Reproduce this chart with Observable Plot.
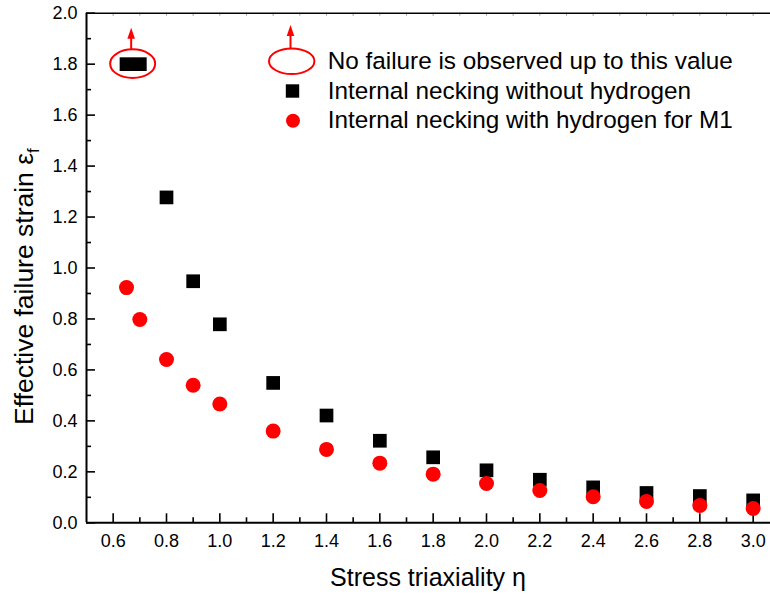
<!DOCTYPE html>
<html><head><meta charset="utf-8">
<script src="https://cdn.jsdelivr.net/npm/d3@7"></script>
<script src="https://cdn.jsdelivr.net/npm/@observablehq/plot@0.6"></script>
<style>
body{margin:0;background:#fff}
#chart{position:relative;width:770px;height:596px;overflow:hidden}
</style>
</head><body><div id="chart"></div>
<script>
// ---- data ----
const triaxialityNoH = [0.65, 0.7, 0.8, 0.9, 1.0, 1.2, 1.4, 1.6, 1.8, 2.0, 2.2, 2.4, 2.6, 2.8, 3.0];
const strainNoH      = [1.8, 1.8, 1.277, 0.948, 0.779, 0.549, 0.421, 0.322, 0.257, 0.206, 0.169, 0.139, 0.117, 0.105, 0.088];
const censoredNoH    = [true, true, false, false, false, false, false, false, false, false, false, false, false, false, false];
const triaxialityH   = [0.65, 0.7, 0.8, 0.9, 1.0, 1.2, 1.4, 1.6, 1.8, 2.0, 2.2, 2.4, 2.6, 2.8, 3.0];
const strainH        = [0.923, 0.798, 0.641, 0.540, 0.466, 0.360, 0.288, 0.234, 0.191, 0.154, 0.127, 0.102, 0.084, 0.068, 0.056];
const xMajorTicks = [0.6, 0.8, 1.0, 1.2, 1.4, 1.6, 1.8, 2.0, 2.2, 2.4, 2.6, 2.8, 3.0];
const xMinorTicks = [0.7, 0.9, 1.1, 1.3, 1.5, 1.7, 1.9, 2.1, 2.3, 2.5, 2.7, 2.9];
const yMajorTicks = [0, 0.2, 0.4, 0.6, 0.8, 1.0, 1.2, 1.4, 1.6, 1.8, 2.0];
const yMinorTicks = [0.1, 0.3, 0.5, 0.7, 0.9, 1.1, 1.3, 1.5, 1.7, 1.9];
const legendLabels = ["No failure is observed up to this value", "Internal necking without hydrogen", "Internal necking with hydrogen for M1"];
const xTitle = "Stress triaxiality η";
const yTitle = "Effective failure strain ε";
const yTitleSub = "f";

// ---- build ----
const font = "'Liberation Sans', Arial, Helvetica, sans-serif";
const noH = triaxialityNoH.map((x, i) => ({x, y: strainNoH[i], censored: censoredNoH[i]}));
const withH = triaxialityH.map((x, i) => ({x, y: strainH[i]}));
const fmt = d => d.toFixed(1);
const W = 770, H = 596, mL = 86, mR = 0, mT = 12.7, mB = 73.7;
const frameW = W - mL - mR, frameH = H - mT - mB;

const plot = Plot.plot({
  width: W, height: H,
  marginLeft: mL, marginRight: mR, marginTop: mT, marginBottom: mB,
  style: {fontFamily: font, fontSize: "18px", background: "white", color: "#000", overflow: "visible"},
  x: {domain: [0.5, 3.065], label: null},
  y: {domain: [0, 2], label: null},
  marks: [
    Plot.axisX({ticks: xMajorTicks, tickSize: 0, tickPadding: 11, tickFormat: fmt, label: null}),
    Plot.axisY({ticks: yMajorTicks, tickSize: 0, tickPadding: 9, tickFormat: fmt, label: null}),
    // inward ticks
    Plot.tickX(xMajorTicks, {x: d => d, insetTop: frameH - 9, strokeWidth: 1.6}),
    Plot.tickX(xMinorTicks, {x: d => d, insetTop: frameH - 5, strokeWidth: 1.6}),
    Plot.tickX(xMajorTicks.concat(xMinorTicks), {x: d => d, insetBottom: frameH - 3, stroke: "#999"}),
    Plot.tickY(yMajorTicks, {y: d => d, insetRight: frameW - 9, strokeWidth: 1.6}),
    Plot.tickY(yMinorTicks, {y: d => d, insetRight: frameW - 5, strokeWidth: 1.6}),
    Plot.ruleX([0.5], {strokeWidth: 2}),
    Plot.ruleY([0], {strokeWidth: 2}),
    Plot.ruleY([2], {strokeWidth: 1.6}),
    Plot.dot(noH, {x: "x", y: "y", symbol: "square", r: 7.73, fill: "#000", stroke: null}),
    Plot.dot(withH, {x: "x", y: "y", r: 7.5, fill: "#ff0000", stroke: null})
  ]
});
document.getElementById("chart").appendChild(plot);

const sx = plot.scale("x"), sy = plot.scale("y");
const svg = d3.select(plot);
const red = "#ff0000";

function arrowUp(g, x, yFrom, yTip) {
  g.append("line").attr("x1", x).attr("x2", x).attr("y1", yFrom).attr("y2", yTip + 8)
    .attr("stroke", red).attr("stroke-width", 2);
  g.append("path").attr("d", `M${x},${yTip}L${x - 3.8},${yTip + 11}L${x + 3.8},${yTip + 11}Z`).attr("fill", red);
}

// annotation around censored points
const cens = noH.filter(d => d.censored);
const cx = sx.apply(d3.mean(cens, d => d.x)), cy = sy.apply(d3.mean(cens, d => d.y));
const ann = svg.append("g");
ann.append("ellipse").attr("cx", cx).attr("cy", cy).attr("rx", 22.5).attr("ry", 14.3)
  .attr("fill", "none").attr("stroke", red).attr("stroke-width", 2);
arrowUp(ann, cx - 1.5, cy - 14.3, cy - 36);

// legend
const lg = svg.append("g").attr("font-family", font).attr("font-size", 24.3).attr("text-anchor", "start");
const lx = 291.7, tx = 327.7;
lg.append("ellipse").attr("cx", lx).attr("cy", 61.2).attr("rx", 22.7).attr("ry", 12.8)
  .attr("fill", "none").attr("stroke", red).attr("stroke-width", 2);
arrowUp(lg, lx - 1.2, 48.4, 25);
lg.append("rect").attr("x", lx + 0.8 - 6.7).attr("y", 91 - 6.7).attr("width", 13.4).attr("height", 13.4).attr("fill", "#000");
lg.append("circle").attr("cx", lx + 1.3).attr("cy", 120.8).attr("r", 7).attr("fill", red);
const baselines = [68.5, 99.3, 127.8];
legendLabels.forEach((t, i) => lg.append("text").attr("x", tx).attr("y", baselines[i]).text(t));

// axis titles
svg.append("text").attr("x", 428).attr("y", 586).attr("text-anchor", "middle")
  .attr("font-family", font).attr("font-size", 25).text(xTitle);
const yt = svg.append("text").attr("transform", "translate(32.5,425) rotate(-90)")
  .attr("text-anchor", "start").attr("font-family", font).attr("font-size", 26.5);
yt.append("tspan").text(yTitle);
yt.append("tspan").attr("font-size", 17).attr("dy", 6).text(yTitleSub);
</script>
</body></html>
